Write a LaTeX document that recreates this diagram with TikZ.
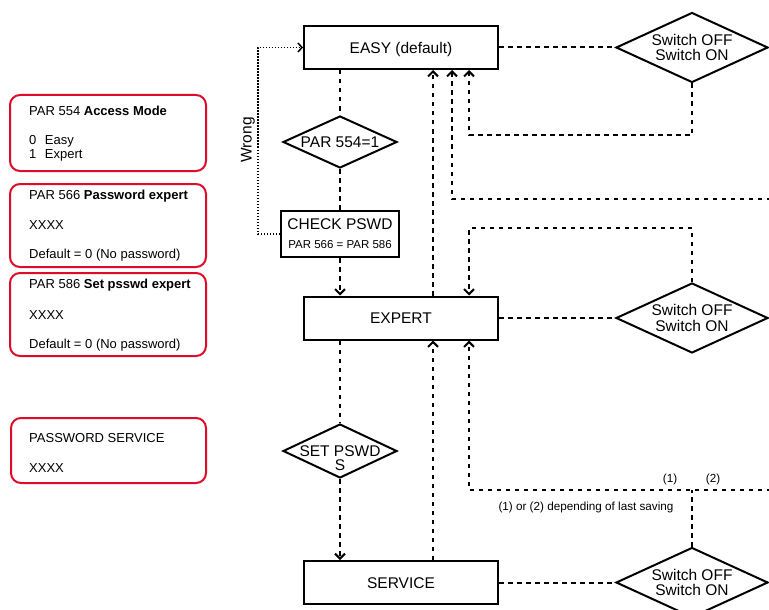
\documentclass[tikz,border=0pt]{standalone}
\usepackage{fontspec}
\setmainfont{Liberation Sans}
\usetikzlibrary{shapes.geometric,arrows.meta,positioning}
\definecolor{parred}{RGB}{222,12,40}

\begin{document}
\begin{tikzpicture}[x=1pt, y=-1pt,
    font=\fontsize{15.5}{15.5}\selectfont,
    mode/.style={draw, line width=2pt, minimum width=194pt, minimum height=43pt,
        inner sep=0pt, text height=11.1pt, text depth=0pt},
    check/.style={draw, line width=2pt, minimum width=118pt, minimum height=46pt,
        inner sep=0pt, align=center},
    decision/.style={draw, diamond, line width=2pt, aspect=2.17, inner sep=0pt, align=center},
    switch/.style={decision, minimum width=152pt, minimum height=70pt},
    parbox/.style={draw=parred, line width=2pt, rounded corners=10pt, minimum width=196pt},
    partext/.style={anchor=base west, inner sep=0pt, font=\fontsize{13}{15}\selectfont},
    small/.style={inner sep=0pt, font=\fontsize{11.7}{13}\selectfont},
    flow/.style={line width=2pt, dash pattern=on 4.5pt off 4.5pt,
        -{Straight Barb[length=5pt,width=10pt]}},
    wrongline/.style={line width=1.5pt, dash pattern=on 1.5pt off 1.5pt,
        -{Straight Barb[length=4pt,width=9pt]}}]
\useasboundingbox (0,0) rectangle (769,610);
\clip (0,0) rectangle (769,610);

% parameter boxes
\node[parbox, minimum height=76pt] (box554) at (108,133) {};
\node[partext] (t554a) at (29,116) {PAR 554 \textbf{Access Mode}};
\node[partext] (t554b) at (29,144) {0\hspace{8.5pt}Easy};
\node[partext] (t554c) at (29,158) {1\hspace{8.5pt}Expert};

\node[parbox, minimum height=83pt] (box566) at (108,225.5) {};
\node[partext] (t566a) at (29,199) {PAR 566 \textbf{Password expert}};
\node[partext] (t566b) at (29,229) {XXXX};
\node[partext] (t566c) at (29,258) {Default = 0 (No password)};

\node[parbox, minimum height=83pt] (box586) at (108,314.5) {};
\node[partext] (t586a) at (29,288) {PAR 586 \textbf{Set psswd expert}};
\node[partext] (t586b) at (29,319) {XXXX};
\node[partext] (t586c) at (29,348) {Default = 0 (No password)};

\node[parbox, minimum height=65pt, minimum width=195pt] (boxsrv) at (108.5,450.5) {};
\node[partext] (tsrva) at (29,442) {PASSWORD SERVICE};
\node[partext] (tsrvb) at (29,472) {XXXX};

% modes
\node[mode] (easy) at (401,47.5) {EASY (default)};
\node[mode] (expert) at (401,318) {EXPERT};
\node[mode] (service) at (401,582.5) {SERVICE};

\node[decision, minimum width=114pt, minimum height=52pt] (par554) at (340,142) {PAR 554=1};
\node[check] (check) at (340,234) {CHECK PSWD\\[3.5pt]{\fontsize{11.5}{13}\selectfont PAR 566 = PAR 586}};
\node[decision, minimum width=114pt, minimum height=54pt,
    label={[align=center, inner sep=0pt, yshift=-7pt]center:SET PSWD\\[-1.5pt]S}] (setpswd) at (340,451) {};

\node[switch] (sw1) at (692,47.5) {Switch OFF\\Switch ON};
\node[switch] (sw2) at (692,318) {Switch OFF\\Switch ON};
\node[switch] (sw3) at (692,582.5) {Switch OFF\\Switch ON};

\node[rotate=90] (wrong) at (248,140) {Wrong};
\node[small] (lab1) at (670,479) {(1)};
\node[small] (lab2) at (713,479) {(2)};
\node[small] (note) at (586,507) {(1) or (2) depending of last saving};

\coordinate (c1) at (469,135);
\coordinate (c2) at (780,199);
\coordinate (c3) at (469,228);
\coordinate (c4) at (780,490);
\coordinate (c5) at (469,490);

% access path
\draw[flow, -] ([xshift=-61pt]easy.south) -- (par554.north);
\draw[flow, -] (par554.south) -- (check.north);
\draw[flow] (check.south) -- ([xshift=-61pt]expert.north);
\draw[wrongline] (check.west) -- ++(-22,0) |- (easy.west);
\draw[flow, -] ([xshift=-61pt]expert.south) -- (setpswd.north);
\draw[flow] (setpswd.south) -- ([xshift=-61pt]service.north);

% back paths
\draw[flow] ([xshift=32pt]expert.north) -- ([xshift=32pt]easy.south);
\draw[flow] ([xshift=32pt]service.north) -- ([xshift=32pt]expert.south);
\draw[flow] (c2) -| ([xshift=51pt]easy.south);

% switch off / on
\draw[flow, -] (easy.east) -- (sw1.west);
\draw[flow, -] (expert.east) -- (sw2.west);
\draw[flow, -] (service.east) -- (sw3.west);
\draw[flow] (sw1.south) |- (c1) -- ([xshift=68pt]easy.south);
\draw[flow] (sw2.north) |- (c3) -- ([xshift=68pt]expert.north);
\draw[flow] (c4) -- (c5) -- ([xshift=68pt]expert.south);
\draw[flow, -] (sw3.north) -- (sw3.north |- c5);
\end{tikzpicture}
\end{document}
